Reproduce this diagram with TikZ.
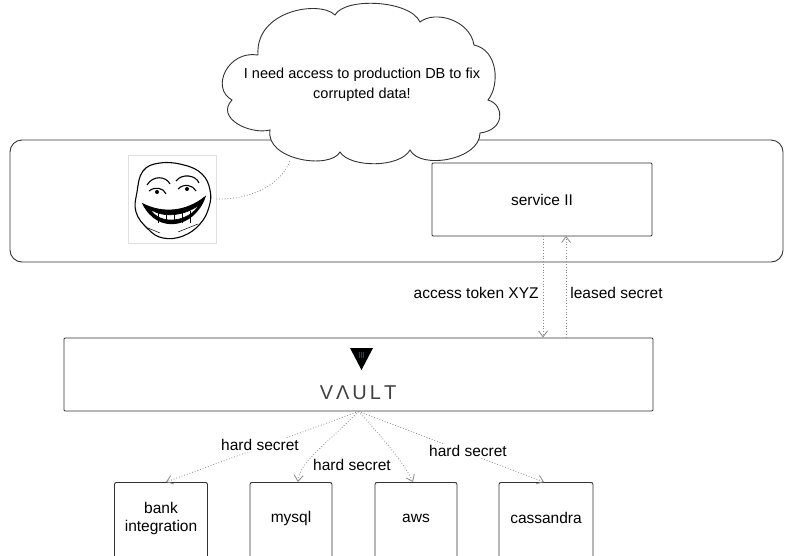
\documentclass[tikz,border=0pt]{standalone}
\usepackage{fontspec}
\setmainfont{Liberation Sans}
\usetikzlibrary{arrows.meta}

\definecolor{linegray}{HTML}{333333}
\definecolor{dotgray}{HTML}{8A8A8A}
\definecolor{vaultteal}{HTML}{1FA3C4}

\tikzset{
  labelfont/.style={font=\fontsize{15.5}{18}\selectfont},
  box/.style={draw=linegray, line width=0.9pt, fill=white, rounded corners=2pt,
              align=center, labelfont},
  link/.style={draw=dotgray, line width=0.8pt, dotted,
               -{Straight Barb[length=6pt,width=9pt,line width=0.8pt]}},
  tag/.style={fill=white, inner sep=1pt, labelfont},
  thought/.style={draw=dotgray, line width=0.8pt, dotted}
}

\begin{document}
\begin{tikzpicture}[x=1pt,y=-1pt]
  \useasboundingbox (0,0) rectangle (791,555);
  \fill[white] (0,0) rectangle (791,555);

  % outer environment container
  \draw[linegray, line width=0.9pt, rounded corners=12pt] (10,140) rectangle (783,262);

  % service box
  \node[box, minimum width=220pt, minimum height=73pt, rounded corners=1pt] (svc) at (542,199.5) {service II};

  % vault box
  \node[box, minimum width=589pt, minimum height=73pt, rounded corners=1pt] (vault) at (358.5,374.5) {};
  % vault logo
  \fill[black] (350,348) -- (373,348) -- (361.5,370) -- cycle;
  \foreach \dx in {-2,0,2} \foreach \dy in {-2,0,2}
    \fill[vaultteal] (361.5+\dx,355+\dy) circle (0.6pt);
  \node[font=\fontsize{20}{22}\selectfont, text=black!75] (vaultname) at (358,393)
    {V\kern3pt Λ\kern3pt U\kern3pt L\kern3pt T};

  % back-end systems
  \node[box, minimum width=93pt, minimum height=80pt, anchor=north] (bank) at (161,482) {};
  \node[labelfont, align=center] at (161,518) {bank\\integration};
  \node[box, minimum width=82pt, minimum height=80pt, anchor=north] (mysql) at (291,482) {};
  \node[labelfont] at (291,518) {mysql};
  \node[box, minimum width=82pt, minimum height=80pt, anchor=north] (aws) at (416,482) {};
  \node[labelfont] at (416,518) {aws};
  \node[box, minimum width=94pt, minimum height=80pt, anchor=north] (cass) at (546,482) {};
  \node[labelfont] at (546,518) {cassandra};

  % token exchange between service and vault
  \draw[link] (543,236) -- node[tag, left=3pt, pos=0.56, fill=none] {access token XYZ} (543,337.5);
  \draw[link] (566,337.5) -- node[tag, right=3pt, pos=0.44, fill=none] {leased secret} (566,236);

  % hard secrets from vault to back-ends
  \draw[link] (vault.south) -- (166,482);
  \draw[link] (vault.south) .. controls (320,450) and (300,462) .. (298,482);
  \draw[link] (vault.south) .. controls (385,440) and (405,465) .. (413,482);
  \draw[link] (vault.south) -- (544,482);
  \node[tag] (hs1) at (260,445) {hard secret};
  \node[tag] (hs2) at (352,465) {hard secret};
  \node[tag] (hs3) at (468,451) {hard secret};

  % troll portrait
  \node[draw=black!12, line width=0.6pt, minimum size=88pt, fill=white] (troll) at (172,199) {};
  \begin{scope}[line width=1.1pt, black]
    % head outline
    \draw[fill=white] plot[smooth cycle, tension=0.7] coordinates
      {(137,192) (143,171) (160,163) (184,165) (202,174) (210,190) (209,207)
       (200,224) (183,236) (163,238) (148,229) (136,212)};
    % brows and eyes
    \draw (147,185) .. controls (153,175) and (166,176) .. (170,184);
    \draw (149,191) .. controls (155,186) and (164,188) .. (166,194);
    \draw (176,181) .. controls (182,173) and (196,175) .. (199,183);
    \draw (178,189) .. controls (184,183) and (193,185) .. (196,191);
    \fill (157,192) circle (2pt);
    \fill (187,189) circle (2pt);
    % grin with teeth
    \draw[fill=black] (143,204) .. controls (158,234) and (194,228) .. (205,197)
                      .. controls (186,212) and (163,214) .. cycle;
    \draw[fill=white, line width=0.6pt] (150,209) .. controls (164,219) and (186,215) .. (199,205)
                      .. controls (190,221) and (161,227) .. cycle;
    \foreach \tx in {158,166,174,182,190}
      \draw[line width=0.7pt] (\tx,211) -- (\tx,223);
    \draw[line width=0.5pt] (148,228) -- (160,233);
    \draw[line width=0.5pt] (178,232) -- (198,224);
  \end{scope}

  % thought cloud
  \draw[linegray, line width=0.9pt, fill=white]
    (258,55) .. controls (228,50) and (210,88) .. (232,100)
    .. controls (215,118) and (250,135) .. (270,130)
    .. controls (265,160) and (330,170) .. (340,152)
    .. controls (350,168) and (400,168) .. (410,150)
    .. controls (420,170) and (480,160) .. (480,133)
    .. controls (505,130) and (505,105) .. (488,100)
    .. controls (500,85) and (498,50) .. (474,45)
    .. controls (470,20) and (435,10) .. (420,22)
    .. controls (410,0) and (345,-3) .. (335,15)
    .. controls (320,0) and (255,10) .. cycle;
  \node[font=\fontsize{14.5}{20}\selectfont, align=center] (cloud) at (362,85)
    {I need access to production DB to fix\\corrupted data!};

  % thought trail
  \draw[thought] (troll.east) .. controls (250,200) and (282,185) .. (290,160);
\end{tikzpicture}
\end{document}
